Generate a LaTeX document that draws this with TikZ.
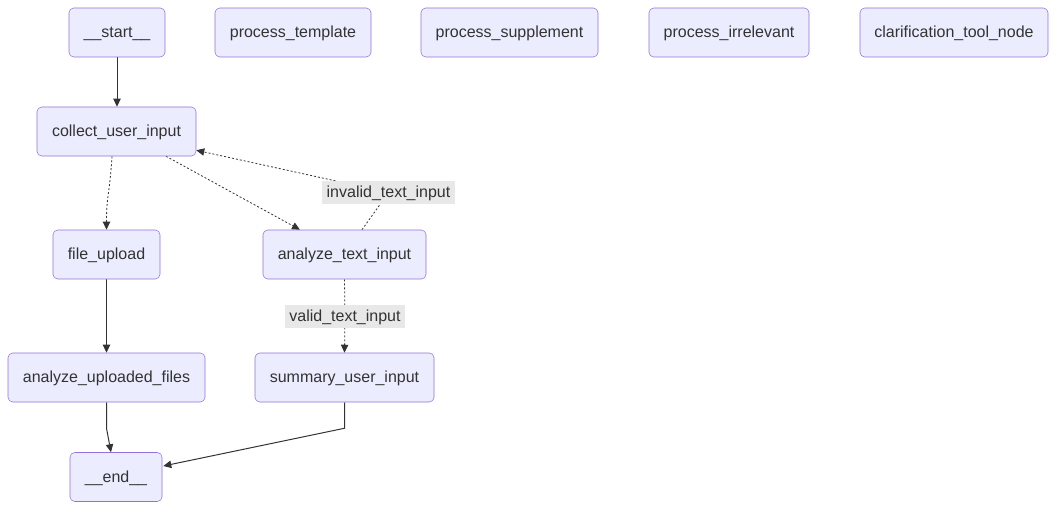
\documentclass[tikz,border=0pt]{standalone}
\usepackage{fontspec}
\setmainfont{Liberation Sans}
\usetikzlibrary{calc, arrows.meta, backgrounds}
\definecolor{boxfill}{HTML}{ECECFF}
\definecolor{boxline}{HTML}{9370DB}
\definecolor{ink}{HTML}{333333}
\definecolor{lblfill}{HTML}{E8E8E8}
\begin{document}
\begin{tikzpicture}[x=0.75pt,y=-0.75pt, every node/.style={font=\fontsize{12}{14}\selectfont, text=ink, text height=8.6pt, text depth=0.6pt},
    box/.style={draw=boxline, fill=boxfill, rounded corners=3.5pt, minimum height=36.75pt, inner sep=0pt},
    lbl/.style={fill=lblfill, inner sep=0pt, minimum height=17.25pt},
    flow/.style={draw=ink, line width=0.75pt, -{Triangle[length=6pt,width=5.5pt]}},
    dflow/.style={flow, line width=0.6pt, dash pattern=on 1.5pt off 1.5pt}]
    \useasboundingbox (0,0) rectangle (1057,510);
    \node[box, minimum width=72pt] (start) at (117,32.5) {\_\_start\_\_};
    \node[box, minimum width=117pt] (pt) at (293,32.5) {process\_template};
    \node[box, minimum width=132.75pt] (ps) at (509.5,32.5) {process\_supplement};
    \node[box, minimum width=120pt] (pi) at (729,32.5) {process\_irrelevant};
    \node[box, minimum width=141pt] (ctn) at (954,32.5) {clarification\_tool\_node};
    \node[box, minimum width=119.25pt] (cui) at (116.5,131.5) {collect\_user\_input};
    \node[box, minimum width=80.25pt] (fu) at (106.5,254.5) {file\_upload};
    \node[box, minimum width=122.25pt] (ati) at (344.5,254.5) {analyze\_text\_input};
    \node[box, minimum width=147.75pt] (auf) at (106.5,377.5) {analyze\_uploaded\_files};
    \node[box, minimum width=134.25pt] (sui) at (344.5,377.5) {summary\_user\_input};
    \node[box, minimum width=69pt] (end) at (116,477) {\_\_end\_\_};
    \node[lbl, minimum width=99.75pt] (iti) at (388.5,192.5) {invalid\_text\_input};
    \node[lbl, minimum width=90pt] (vti) at (345,316.5) {valid\_text\_input};
    \begin{scope}[on background layer]
    \draw[flow] (start.south) -- (start.south |- cui.north);
    \draw[dflow] ($(cui.south)+(-4.5,0)$) .. controls ($(cui.south)+(-7,40)$) and ($(fu.north)+(0,-35)$) .. (fu.north);
    \draw[dflow] ($(cui.south)+(49.5,0)$) -- ($(ati.north)+(-44.5,0)$);
    \draw[dflow] ($(ati.north)+(17.5,0)$) -- (iti.center) -- ($(cui.south east)+(0,-6)$);
    \draw[dflow] (ati.south) -- (vti.center) -- (sui.north);
    \draw[flow] (fu) -- (auf);
    \draw[flow] (auf.south) -- ++(0,26) -- ($(end.north)+(-5,0)$);
    \draw[flow] (sui.south) -- ++(0,26) -- ($(end.east)+(1,-11)$);
    \end{scope}
\end{tikzpicture}
\end{document}
